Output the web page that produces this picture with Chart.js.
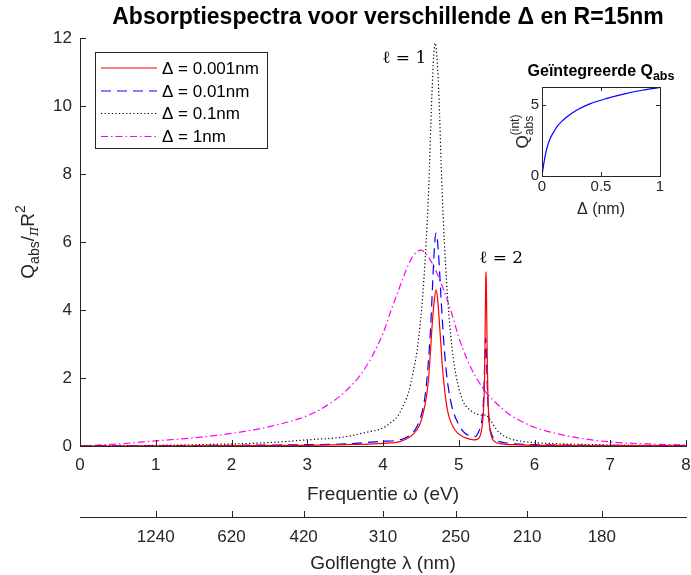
<!DOCTYPE html>
<html>
<head>
<meta charset="utf-8">
<script src="https://cdn.jsdelivr.net/npm/chart.js@4.4.1/dist/chart.umd.min.js"></script>
<style>
html,body{margin:0;padding:0;background:#ffffff;}
#wrap{position:relative;width:691px;height:575px;overflow:hidden;}
#main{position:absolute;left:0;top:0;}
#inset{position:absolute;left:490px;top:50px;}
</style>
</head>
<body>
<div id="wrap">
<canvas id="main" width="691" height="575"></canvas>
<canvas id="inset" width="200" height="180"></canvas>
</div>
<script>
// ---------------- DATA ----------------
const seriesLabels = ['\u0394 = 0.001nm', '\u0394 = 0.01nm', '\u0394 = 0.1nm', '\u0394 = 1nm'];

// Delta = 0.001 nm
const omegaD0001 = [0, 1, 2, 3, 3.5, 4, 4.22, 4.4, 4.48, 4.53, 4.57, 4.6, 4.63, 4.65, 4.68, 4.7, 4.72, 4.75, 4.78, 4.8, 4.83, 4.86, 4.9, 4.95, 5.02, 5.1, 5.2, 5.26, 5.29, 5.315, 5.33, 5.34, 5.348, 5.352, 5.356, 5.36, 5.364, 5.368, 5.376, 5.385, 5.4, 5.43, 5.48, 5.55, 5.8, 6.5, 7.2, 8];
const qD0001     = [0, 0.005, 0.01, 0.02, 0.04, 0.08, 0.13, 0.35, 0.6, 0.96, 1.4, 1.94, 2.9, 3.6, 4.35, 4.59, 4.35, 3.45, 2.45, 1.94, 1.35, 0.96, 0.68, 0.47, 0.32, 0.23, 0.18, 0.22, 0.35, 0.7, 1.2, 1.9, 3.3, 4.1, 4.85, 5.13, 4.85, 4.1, 2.6, 1.5, 0.75, 0.3, 0.12, 0.07, 0.035, 0.015, 0.01, 0.008];

// Delta = 0.01 nm
const omegaD001 = [0, 1, 2, 3, 3.5, 4, 4.22, 4.36, 4.45, 4.52, 4.56, 4.6, 4.63, 4.66, 4.68, 4.7, 4.72, 4.74, 4.77, 4.8, 4.84, 4.9, 4.99, 5.09, 5.17, 5.22, 5.27, 5.3, 5.32, 5.336, 5.346, 5.356, 5.366, 5.376, 5.392, 5.412, 5.442, 5.486, 5.55, 5.7, 6, 6.5, 7.2, 8];
const qD001     = [0, 0.01, 0.02, 0.04, 0.06, 0.14, 0.18, 0.33, 0.58, 1.03, 1.55, 2.5, 3.55, 5.0, 5.9, 6.26, 6.02, 5.4, 4.2, 3.13, 2.1, 1.25, 0.67, 0.36, 0.3, 0.28, 0.46, 0.67, 1.08, 1.89, 2.73, 3.18, 2.66, 1.81, 0.97, 0.54, 0.3, 0.18, 0.12, 0.07, 0.04, 0.025, 0.015, 0.01];

// Delta = 0.1 nm
const omegaD01 = [0, 1, 2, 2.5, 3, 3.5, 3.75, 4, 4.1, 4.2, 4.27, 4.34, 4.4, 4.45, 4.5, 4.54, 4.6, 4.645, 4.67, 4.69, 4.71, 4.735, 4.78, 4.84, 4.88, 4.93, 4.99, 5.06, 5.12, 5.2, 5.27, 5.33, 5.36, 5.4, 5.45, 5.5, 5.56, 5.66, 5.8, 6.0, 6.4, 7, 8];
const qD01     = [0, 0.02, 0.06, 0.1, 0.18, 0.27, 0.39, 0.53, 0.68, 0.9, 1.2, 1.6, 2.2, 2.8, 3.8, 4.9, 7.4, 10.3, 11.5, 11.85, 11.5, 10.5, 7.5, 4.8, 3.6, 2.55, 1.8, 1.3, 1.12, 0.98, 0.92, 0.9, 0.92, 0.82, 0.65, 0.48, 0.35, 0.23, 0.15, 0.1, 0.06, 0.03, 0.015];

// Delta = 1 nm
const omegaD1 = [0, 0.5, 1, 1.5, 2, 2.5, 3, 3.25, 3.5, 3.75, 4, 4.1, 4.2, 4.3, 4.4, 4.5, 4.6, 4.7, 4.8, 4.9, 5.0, 5.1, 5.22, 5.37, 5.5, 5.68, 5.85, 6.0, 6.3, 6.6, 7.0, 7.5, 8];
const qD1     = [0, 0.06, 0.15, 0.24, 0.37, 0.57, 0.89, 1.18, 1.6, 2.24, 3.31, 3.95, 4.55, 5.15, 5.6, 5.76, 5.55, 5.15, 4.6, 3.95, 3.2, 2.6, 2.05, 1.55, 1.25, 0.91, 0.7, 0.55, 0.36, 0.23, 0.12, 0.06, 0.03];

// secondary axis: wavelength tick labels (nm), placed at omega = 1240/lambda
const lambdaTicks = [1240, 620, 420, 310, 250, 210, 180];

// inset: integrated absorption vs Delta
const insetDelta = [0, 0.01, 0.02, 0.04, 0.07, 0.1, 0.13, 0.17, 0.21, 0.3, 0.4, 0.55, 0.7, 0.85, 1.0];
const insetQint  = [0, 0.6, 1.1, 1.9, 2.65, 3.1, 3.5, 3.85, 4.15, 4.65, 5.05, 5.45, 5.77, 6.02, 6.22];
const insetXTicks = [0, 0.5, 1];
const insetYTicks = [0, 5];

// ---------------- STYLE ----------------
const SANS = "'Liberation Sans', Arial, Helvetica, sans-serif";
const SERIF = "'DejaVu Serif', 'Liberation Serif', serif";
const AX = '#262626';
const pts = (xs, ys) => xs.map((x, i) => ({x: x, y: ys[i]}));
const fstr = (p) => (p.italic ? 'italic ' : '') + (p.bold ? 'bold ' : '') + p.size + 'px ' + (p.family || SANS);

function drawRich(ctx, parts, x, y, align) {
  const pos = [];
  let cur = 0;
  parts.forEach((p, i) => {
    ctx.font = fstr(p);
    const w = ctx.measureText(p.t).width;
    const start = p.stack ? pos[i - 1] : cur;
    pos.push(start);
    cur = Math.max(cur, start + w);
  });
  const off = align === 'center' ? -cur / 2 : (align === 'right' ? -cur : 0);
  parts.forEach((p, i) => {
    ctx.font = fstr(p);
    ctx.fillText(p.t, x + off + pos[i], y + (p.dy || 0));
  });
}

function line(ctx, x1, y1, x2, y2) {
  ctx.beginPath(); ctx.moveTo(x1, y1); ctx.lineTo(x2, y2); ctx.stroke();
}

const datasetsMain = [
  {label: seriesLabels[0], data: pts(omegaD0001, qD0001), borderColor: '#ff0000', borderDash: []},
  {label: seriesLabels[1], data: pts(omegaD001, qD001), borderColor: '#0000ff', borderDash: [10, 6]},
  {label: seriesLabels[2], data: pts(omegaD01, qD01), borderColor: '#000000', borderDash: [1.2, 2.4]},
  {label: seriesLabels[3], data: pts(omegaD1, qD1), borderColor: '#ff00ff', borderDash: [7, 3, 1.5, 3]}
].map(d => Object.assign(d, {borderWidth: 1.2, pointRadius: 0, fill: false, cubicInterpolationMode: 'monotone'}));

const mainDeco = {
  id: 'mainDeco',
  afterDraw(chart) {
    const ctx = chart.ctx, a = chart.chartArea;
    const sx = chart.scales.x, sy = chart.scales.y, sx2 = chart.scales.x2;
    ctx.save();
    ctx.strokeStyle = AX; ctx.lineWidth = 1; ctx.setLineDash([]);
    // inward ticks
    sx.ticks.forEach(t => { const px = Math.round(sx.getPixelForValue(t.value)) + 0.5; line(ctx, px, a.bottom, px, a.bottom - 6); });
    sy.ticks.forEach(t => { const py = Math.round(sy.getPixelForValue(t.value)) + 0.5; line(ctx, a.left, py, a.left + 6, py); });
    sx2.ticks.forEach(t => { const px = Math.round(sx2.getPixelForValue(t.value)) + 0.5; line(ctx, px, sx2.top, px, sx2.top - 6); });

    ctx.fillStyle = '#000';
    ctx.textBaseline = 'middle';
    // title
    ctx.textAlign = 'left';
    drawRich(ctx, [{t: 'Absorptiespectra voor verschillende \u0394 en R=15nm', size: 23, bold: true}], (a.left + a.right) / 2 + 5, 18, 'center');

    // y label
    ctx.fillStyle = AX;
    ctx.save();
    ctx.translate(34, (a.top + a.bottom) / 2);
    ctx.rotate(-Math.PI / 2);
    ctx.textBaseline = 'alphabetic';
    drawRich(ctx, [
      {t: 'Q', size: 19},
      {t: 'abs', size: 14, dy: 5},
      {t: '/', size: 19},
      {t: '\u03c0', size: 14, dy: 4, italic: true, family: SERIF},
      {t: 'R', size: 19},
      {t: '2', size: 14, dy: -9}
    ], 0, 0, 'center');
    ctx.restore();

    // l annotations
    ctx.fillStyle = '#000';
    ctx.textBaseline = 'middle';
    drawRich(ctx, [{t: '\u2113 = 1', size: 17, family: SERIF}], sx.getPixelForValue(4.28), sy.getPixelForValue(11.4), 'center');
    drawRich(ctx, [{t: '\u2113 = 2', size: 17, family: SERIF}], sx.getPixelForValue(5.56), sy.getPixelForValue(5.5), 'center');

    // legend
    const lx = 95.5, ly = 52.5, lw = 172, lh = 96;
    ctx.fillStyle = '#fff';
    ctx.fillRect(lx, ly, lw, lh);
    ctx.strokeStyle = AX; ctx.lineWidth = 1;
    ctx.strokeRect(lx, ly, lw, lh);
    const rows = [68, 91, 113.5, 136.5];
    chart.data.datasets.forEach((d, i) => {
      ctx.strokeStyle = d.borderColor; ctx.lineWidth = 1.2;
      ctx.setLineDash(d.borderDash);
      line(ctx, 101, rows[i], 157, rows[i]);
      ctx.setLineDash([]);
      ctx.fillStyle = '#000';
      drawRich(ctx, [{t: d.label, size: 17}], 162, rows[i] + 1, 'left');
    });
    ctx.restore();
  }
};

new Chart(document.getElementById('main'), {
  type: 'line',
  data: {datasets: datasetsMain},
  options: {
    responsive: false,
    animation: false,
    events: [],
    layout: {padding: {top: 38, right: 5, left: 0, bottom: 0}},
    plugins: {legend: {display: false}, tooltip: {enabled: false}, title: {display: false}},
    scales: {
      x: {
        type: 'linear', min: 0, max: 8, position: 'bottom', weight: 0,
        grid: {display: false, drawTicks: false},
        border: {display: true, color: AX, width: 1},
        ticks: {stepSize: 1, color: AX, font: {family: SANS, size: 17}, padding: 9, maxRotation: 0, autoSkip: false},
        title: {display: true, text: 'Frequentie \u03c9 (eV)', color: AX, font: {family: SANS, size: 19}, padding: {top: 0, bottom: 11}},
        afterFit(s) { s.height = 71; s.paddingRight = 0; s.paddingLeft = 0; }
      },
      x2: {
        type: 'linear', min: 0, max: 8, position: 'bottom', weight: 1,
        grid: {display: false, drawTicks: false},
        border: {display: true, color: AX, width: 1},
        afterBuildTicks(s) { s.ticks = lambdaTicks.map(l => ({value: 1240 / l})); },
        ticks: {color: AX, font: {family: SANS, size: 17}, padding: 10, maxRotation: 0, autoSkip: false,
                callback: (v, i) => String(lambdaTicks[i])},
        title: {display: true, text: 'Golflengte \u03bb (nm)', color: AX, font: {family: SANS, size: 19}, padding: {top: 0, bottom: 0}},
        afterFit(s) { s.height = 58; s.paddingRight = 0; s.paddingLeft = 0; }
      },
      y: {
        type: 'linear', min: 0, max: 12,
        grid: {display: false, drawTicks: false},
        border: {display: true, color: AX, width: 1},
        ticks: {stepSize: 2, color: AX, font: {family: SANS, size: 17}, padding: 8},
        afterFit(s) { s.width = 80; s.paddingTop = 0; s.paddingBottom = 0; }
      }
    }
  },
  plugins: [mainDeco]
});

// ---------------- INSET ----------------
const insetDeco = {
  id: 'insetDeco',
  afterDraw(chart) {
    const ctx = chart.ctx, a = chart.chartArea;
    const sx = chart.scales.x, sy = chart.scales.y;
    ctx.save();
    ctx.strokeStyle = AX; ctx.lineWidth = 1;
    ctx.strokeRect(Math.round(a.left) + 0.5, Math.round(a.top) + 0.5, Math.round(a.right - a.left), Math.round(a.bottom - a.top));
    sx.ticks.forEach(t => { const px = Math.round(sx.getPixelForValue(t.value)) + 0.5; line(ctx, px, a.bottom, px, a.bottom - 4); line(ctx, px, a.top, px, a.top + 4); });
    sy.ticks.forEach(t => { const py = Math.round(sy.getPixelForValue(t.value)) + 0.5; line(ctx, a.left, py, a.left + 4, py); line(ctx, a.right, py, a.right - 4, py); });
    ctx.fillStyle = '#000';
    ctx.textBaseline = 'alphabetic';
    drawRich(ctx, [{t: 'Ge\u00efntegreerde Q', size: 16, bold: true}, {t: 'abs', size: 12.5, bold: true, dy: 4}], (a.left + a.right) / 2, 26, 'center');
    ctx.fillStyle = AX;
    ctx.save();
    ctx.translate(38, (a.top + a.bottom) / 2);
    ctx.rotate(-Math.PI / 2);
    drawRich(ctx, [
      {t: 'Q', size: 17},
      {t: '(int)', size: 12, dy: -9},
      {t: 'abs', size: 12, dy: 5, stack: true}
    ], 0, 0, 'center');
    ctx.restore();
    ctx.restore();
  }
};

new Chart(document.getElementById('inset'), {
  type: 'line',
  data: {datasets: [{label: 'Qint', data: pts(insetDelta, insetQint), borderColor: '#0000ff', borderWidth: 1.2, pointRadius: 0, fill: false, cubicInterpolationMode: 'monotone'}]},
  options: {
    responsive: false,
    animation: false,
    events: [],
    layout: {padding: {top: 37, right: 30, left: 0, bottom: 0}},
    plugins: {legend: {display: false}, tooltip: {enabled: false}},
    scales: {
      x: {
        type: 'linear', min: 0, max: 1,
        grid: {display: false, drawTicks: false},
        border: {display: false},
        afterBuildTicks(s) { s.ticks = insetXTicks.map(v => ({value: v})); },
        ticks: {color: AX, font: {family: SANS, size: 15}, padding: 2, maxRotation: 0, autoSkip: false,
                callback: (v, i) => String(insetXTicks[i])},
        title: {display: true, text: '\u0394 (nm)', color: AX, font: {family: SANS, size: 16}, padding: {top: 0, bottom: 11}},
        afterFit(s) { s.height = 54; s.paddingRight = 0; s.paddingLeft = 0; }
      },
      y: {
        type: 'linear', min: 0, max: 6.25,
        grid: {display: false, drawTicks: false},
        border: {display: false},
        afterBuildTicks(s) { s.ticks = insetYTicks.map(v => ({value: v})); },
        ticks: {color: AX, font: {family: SANS, size: 15}, padding: 3,
                callback: (v, i) => String(insetYTicks[i])},
        afterFit(s) { s.width = 52; s.paddingTop = 0; s.paddingBottom = 0; }
      }
    }
  },
  plugins: [insetDeco]
});
</script>
</body>
</html>
